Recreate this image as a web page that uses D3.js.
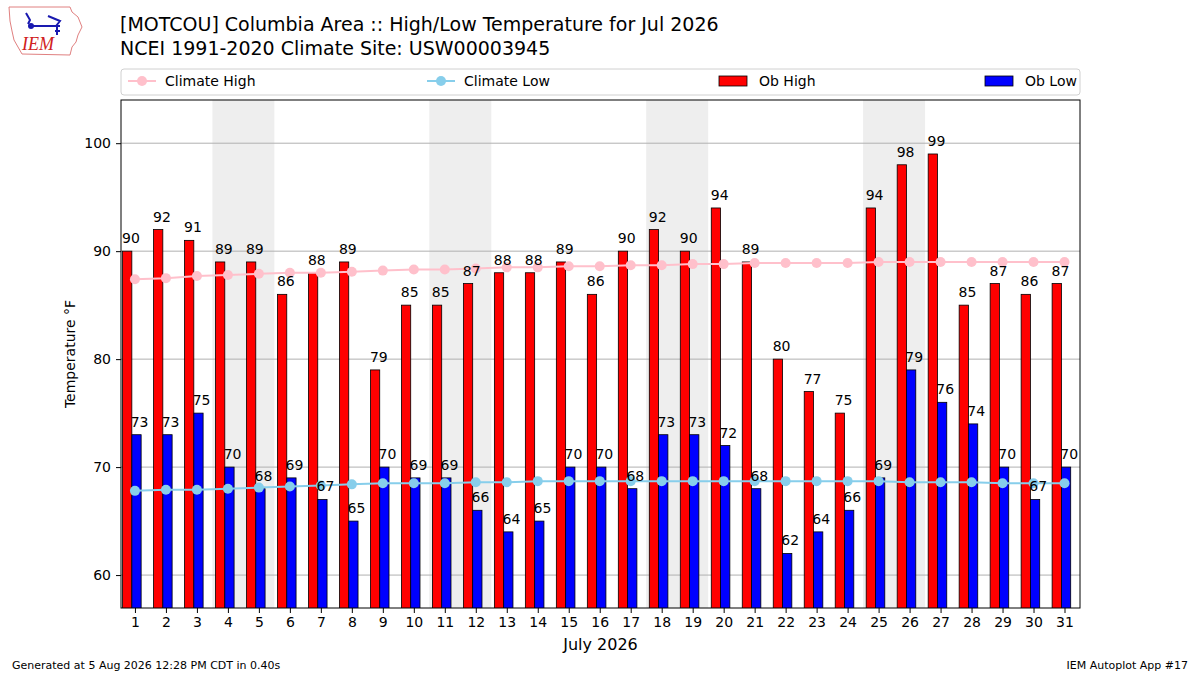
<!DOCTYPE html>
<html>
<head>
<meta charset="utf-8">
<script src="https://cdn.jsdelivr.net/npm/d3@7"></script>
<style>
  body { margin: 0; background: #fff; }
  svg { font-family: "DejaVu Sans", sans-serif; }
</style>
</head>
<body>
<svg id="chart" width="1200" height="675"></svg>
<script>
// July 2026 daily obs + climate normals
var days = d3.range(1, 32);
var obHigh = [90, 92, 91, 89, 89, 86, 88, 89, 79, 85, 85, 87, 88, 88, 89, 86,
              90, 92, 90, 94, 89, 80, 77, 75, 94, 98, 99, 85, 87, 86, 87];
var obLow = [73, 73, 75, 70, 68, 69, 67, 65, 70, 69, 69, 66, 64, 65, 70, 70,
             68, 73, 73, 72, 68, 62, 64, 66, 69, 79, 76, 74, 70, 67, 70];
var climHigh = [87.4, 87.5, 87.7, 87.8, 87.9, 88.0, 88.0, 88.1, 88.2, 88.3, 88.3,
                88.4, 88.5, 88.5, 88.6, 88.6, 88.7, 88.7, 88.8, 88.8, 88.9, 88.9,
                88.9, 88.9, 89.0, 89.0, 89.0, 89.0, 89.0, 89.0, 89.0];
var climLow = [67.8, 67.9, 67.9, 68.0, 68.1, 68.2, 68.3, 68.4, 68.5, 68.5, 68.5,
               68.6, 68.6, 68.7, 68.7, 68.7, 68.7, 68.7, 68.7, 68.7, 68.7, 68.7,
               68.7, 68.7, 68.7, 68.6, 68.6, 68.6, 68.5, 68.5, 68.5];
var weekendStarts = [4, 11, 18, 25];
var yTicks = [60, 70, 80, 90, 100];

var svg = d3.select("#chart");

// plot box (note: "top" is taken by window.top)
var pL = 121, pR = 1080, pT = 100, pB = 608;

var x = d3.scaleLinear().domain([0.55, 31.5]).range([pL, pR]);
var y = d3.scaleLinear().domain([56.95, 104]).range([pB, pT]);

svg.append("clipPath").attr("id", "plotclip")
  .append("rect").attr("x", pL).attr("y", pT)
  .attr("width", pR - pL).attr("height", pB - pT);

var plot = svg.append("g").attr("clip-path", "url(#plotclip)");

// weekend shading
plot.selectAll(".wk")
  .data(weekendStarts)
  .enter().append("rect")
    .attr("x", d => x(d - 0.5))
    .attr("y", pT)
    .attr("width", d => x(d + 1.5) - x(d - 0.5))
    .attr("height", pB - pT)
    .attr("fill", "#eeeeee");

// grid
plot.selectAll(".grid")
  .data(yTicks)
  .enter().append("line")
    .attr("x1", pL).attr("x2", pR)
    .attr("y1", d => y(d)).attr("y2", d => y(d))
    .attr("stroke", "#b0b0b0").attr("stroke-width", 1);

var bw = x(1.3) - x(1);

// bars
plot.selectAll(".hi")
  .data(days)
  .enter().append("rect")
    .attr("x", d => x(d - 0.4))
    .attr("y", (d, i) => y(obHigh[i]))
    .attr("width", bw)
    .attr("height", (d, i) => pB - y(obHigh[i]) + 2)
    .attr("fill", "#ff0000")
    .attr("stroke", "#000").attr("stroke-width", 0.8);

plot.selectAll(".lo")
  .data(days)
  .enter().append("rect")
    .attr("x", d => x(d - 0.1))
    .attr("y", (d, i) => y(obLow[i]))
    .attr("width", bw)
    .attr("height", (d, i) => pB - y(obLow[i]) + 2)
    .attr("fill", "#0000ff")
    .attr("stroke", "#000").attr("stroke-width", 0.8);

// climate lines
function climLine(vals, color) {
  var line = d3.line()
    .x((d, i) => x(days[i]))
    .y(d => y(d));
  plot.append("path")
    .datum(vals)
    .attr("d", line)
    .attr("fill", "none")
    .attr("stroke", color)
    .attr("stroke-width", 2);
  plot.selectAll(null)
    .data(vals)
    .enter().append("circle")
      .attr("cx", (d, i) => x(days[i]))
      .attr("cy", d => y(d))
      .attr("r", 5)
      .attr("fill", color);
}
climLine(climHigh, "#ffc0cb");
climLine(climLow, "#87ceeb");

// value labels
svg.selectAll(".hilab")
  .data(days)
  .enter().append("text")
    .attr("x", d => x(d - 0.13))
    .attr("y", (d, i) => y(obHigh[i]) - 8)
    .attr("text-anchor", "middle")
    .attr("font-size", 14)
    .text((d, i) => obHigh[i]);

svg.selectAll(".lolab")
  .data(days)
  .enter().append("text")
    .attr("x", d => x(d + 0.15))
    .attr("y", (d, i) => y(obLow[i]) - 8)
    .attr("text-anchor", "middle")
    .attr("font-size", 14)
    .text((d, i) => obLow[i]);

// axes
var xAxis = d3.axisBottom(x).tickValues(days).tickFormat(d3.format("d")).tickSizeOuter(0).tickSize(5).tickPadding(4);
var gx = svg.append("g").attr("transform", "translate(0," + pB + ")").call(xAxis);
var yAxis = d3.axisLeft(y).tickValues(yTicks).tickSizeOuter(0).tickSize(5).tickPadding(5);
var gy = svg.append("g").attr("transform", "translate(" + pL + ",0)").call(yAxis);
[gx, gy].forEach(g => {
  g.select(".domain").remove();
  g.selectAll("text").attr("font-size", 14).attr("fill", "#000").attr("font-family", "DejaVu Sans");
  g.selectAll("line").attr("stroke", "#000");
});

svg.append("rect")
  .attr("x", pL).attr("y", pT)
  .attr("width", pR - pL).attr("height", pB - pT)
  .attr("fill", "none").attr("stroke", "#000").attr("stroke-width", 1);

svg.append("text")
  .attr("x", (pL + pR) / 2).attr("y", 650)
  .attr("text-anchor", "middle").attr("font-size", 16)
  .text("July 2026");

svg.append("text")
  .attr("transform", "translate(75," + ((pT + pB) / 2) + ") rotate(-90)")
  .attr("text-anchor", "middle").attr("font-size", 14)
  .text("Temperature °F");

// title
svg.append("text").attr("x", 120).attr("y", 31).attr("font-size", 19)
  .text("[MOTCOU] Columbia Area :: High/Low Temperature for Jul 2026");
svg.append("text").attr("x", 120).attr("y", 55).attr("font-size", 19)
  .text("NCEI 1991-2020 Climate Site: USW00003945");

// legend
var lg = svg.append("g");
lg.append("rect")
  .attr("x", 121).attr("y", 69).attr("width", 959).attr("height", 26)
  .attr("rx", 3).attr("fill", "#fff").attr("stroke", "#d0d0d0");
var legendItems = [
  {label: "Climate High", color: "#ffc0cb", kind: "line", x: 128},
  {label: "Climate Low", color: "#87ceeb", kind: "line", x: 427},
  {label: "Ob High", color: "#ff0000", kind: "bar", x: 719},
  {label: "Ob Low", color: "#0000ff", kind: "bar", x: 985}
];
legendItems.forEach(it => {
  if (it.kind === "line") {
    lg.append("line").attr("x1", it.x).attr("x2", it.x + 28)
      .attr("y1", 81).attr("y2", 81).attr("stroke", it.color).attr("stroke-width", 2);
    lg.append("circle").attr("cx", it.x + 14).attr("cy", 81).attr("r", 5).attr("fill", it.color);
  } else {
    lg.append("rect").attr("x", it.x).attr("y", 76).attr("width", 28).attr("height", 10)
      .attr("fill", it.color).attr("stroke", "#000").attr("stroke-width", 0.8);
  }
  lg.append("text").attr("x", it.x + (it.kind === "line" ? 37 : 40)).attr("y", 86)
    .attr("font-size", 14).text(it.label);
});

// footer
svg.append("text").attr("x", 12).attr("y", 669).attr("font-size", 11)
  .text("Generated at 5 Aug 2026 12:28 PM CDT in 0.40s");
svg.append("text").attr("x", 1188).attr("y", 669).attr("font-size", 11)
  .attr("text-anchor", "end").text("IEM Autoplot App #17");

// IEM logo (rough sketch of the Iowa outline + weathervane)
var logo = svg.append("g");
logo.append("path")
  .attr("d", "M9,7 L70,7 L72,12 L78,17 L82,27 L78,35 L76,42 L72,47 L70,55 L22,54 L18,47 L14,40 L12,31 L10,21 Z")
  .attr("fill", "none").attr("stroke", "#e08080").attr("stroke-width", 1);
logo.append("path")
  .attr("d", "M30,26 L60,26 M48,16 L60,21 L56,26 M26,13 L30,20 L28,24 M57,26 L57,35 M55,31 L60,31")
  .attr("fill", "none").attr("stroke", "#1a1ab0").attr("stroke-width", 2);
logo.append("circle").attr("cx", 31).attr("cy", 26).attr("r", 3).attr("fill", "#1a1ab0");
logo.append("text").attr("x", 22).attr("y", 50)
  .attr("font-family", "Liberation Serif, serif").attr("font-style", "italic")
  .attr("font-size", 18).attr("fill", "#d02020").text("IEM");
</script>
</body>
</html>
